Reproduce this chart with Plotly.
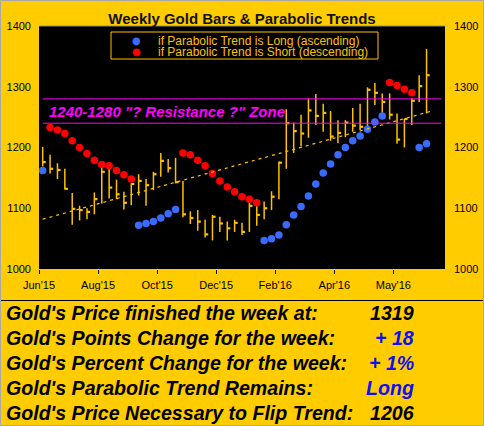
import plotly.graph_objects as go

# ---------------- data ----------------
weeks = list(range(53))
highs = [1201, 1188, 1174, 1165, 1125, 1104, 1100, 1126, 1169, 1172,
         1147, 1127, 1141, 1156, 1148, 1160, 1191, 1181, 1183, 1145,
         1095, 1097, 1081, 1089, 1086, 1078, 1081, 1076, 1115, 1111,
         1111, 1128, 1177, 1263, 1241, 1254, 1281, 1288, 1272, 1260,
         1245, 1245, 1265, 1272, 1299, 1306, 1289, 1289, 1256, 1247,
         1281, 1319, 1362]
lows = [1169, 1157, 1148, 1131, 1073, 1080, 1082, 1090, 1108, 1116,
        1115, 1098, 1105, 1121, 1104, 1130, 1152, 1159, 1141, 1085,
        1074, 1063, 1052, 1047, 1061, 1047, 1061, 1056, 1061, 1071,
        1082, 1097, 1115, 1165, 1191, 1202, 1216, 1237, 1226, 1211,
        1207, 1217, 1226, 1229, 1229, 1270, 1257, 1246, 1206, 1200,
        1237, 1275, 1256]
closes = [1176, 1165, 1163, 1132, 1099, 1097, 1094, 1115, 1160, 1134,
          1123, 1109, 1140, 1145, 1138, 1156, 1178, 1166, 1143, 1090,
          1084, 1078, 1057, 1086, 1075, 1067, 1076, 1061, 1104, 1089,
          1100, 1119, 1175, 1240, 1227, 1223, 1261, 1252, 1257, 1218,
          1224, 1241, 1236, 1234, 1295, 1290, 1275, 1254, 1213, 1247,
          1277, 1301, 1319]
sar_values = [1162, 1233, 1229, 1223, 1211, 1200, 1190, 1179, 1172, 1170,
              1162, 1155, 1148, 1072, 1075, 1078, 1084, 1091, 1098, 1191,
              1188, 1179, 1170, 1157, 1145, 1135, 1127, 1119, 1115, 1109,
              1047, 1050, 1056, 1073, 1089, 1103, 1120, 1140, 1158, 1173,
              1188, 1200, 1211, 1219, 1230, 1242, 1252, 1307, 1302, 1296,
              1290, 1200, 1206]
sar_side = (["L"] + ["S"] * 12 + ["L"] * 6 + ["S"] * 11 + ["L"] * 17
            + ["S"] * 4 + ["L"] * 2)
trend_x = [0, 53]
trend_y = [1082, 1261]
zone_low, zone_high = 1240, 1280
tick_pos = [-0.5, 7.5, 15.5, 23.5, 31.5, 39.5, 47.5]
tick_labels = ["Jun'15", "Aug'15", "Oct'15", "Dec'15", "Feb'16", "Apr'16", "May'16"]
y_ticks = [1000, 1100, 1200, 1300, 1400]
table_labels = ["Gold's Price finished the week at:",
                "Gold's Points Change for the week:",
                "Gold's Percent Change for the week:",
                "Gold's Parabolic Trend Remains:",
                "Gold's Price Necessary to Flip Trend:"]
table_values = ["1319", "+ 18", "+ 1%", "Long", "1206"]
table_colors = ["black", "#1010F0", "#1010F0", "#1010F0", "black"]

# ---------------- styling ----------------
GOLD = "#FFC000"
BG = "#FFCC00"
BLUE = "#3A6BFF"
RED = "#FF0000"
MAGENTA = "#FF00FF"
FONT = "Arial, Liberation Sans, sans-serif"

W, H = 484, 426
ML, MR, MT, MB = 39, 39, 26, 157
PW = W - ML - MR
PH = H - MT - MB


def px_x(p):
    return (p - ML) / PW


def px_y(p):
    return (H - MB - p) / PH


# ---------------- traces ----------------
bar_x, bar_y = [], []
for i, h, l in zip(weeks, highs, lows):
    bar_x += [i, i, None]
    bar_y += [l, h, None]
close_x, close_y = [], []
for i, c in zip(weeks, closes):
    close_x += [i, i + 0.42, None]
    close_y += [c, c, None]

long_y = [v if s == "L" else None for v, s in zip(sar_values, sar_side)]
short_y = [v if s == "S" else None for v, s in zip(sar_values, sar_side)]

fig = go.Figure()
fig.add_trace(go.Scatter(x=trend_x, y=trend_y, mode="lines",
                         line=dict(color=GOLD, width=1.2, dash="3px,4px"),
                         hoverinfo="skip", showlegend=False, yaxis="y2"))
fig.add_trace(go.Scatter(x=bar_x, y=bar_y, mode="lines",
                         line=dict(color=GOLD, width=1.5), showlegend=False))
fig.add_trace(go.Scatter(x=close_x, y=close_y, mode="lines",
                         line=dict(color=GOLD, width=2.2), showlegend=False))
fig.add_trace(go.Scatter(x=weeks, y=long_y, mode="markers",
                         marker=dict(color=BLUE, size=7.5, symbol="circle"),
                         name="if Parabolic Trend is Long (ascending)", showlegend=False))
fig.add_trace(go.Scatter(x=weeks, y=short_y, mode="markers",
                         marker=dict(color=RED, size=7.5, symbol="circle"),
                         name="if Parabolic Trend is Short (descending)", showlegend=False))

shapes = []
for lvl in (zone_low, zone_high):
    shapes.append(dict(type="line", xref="x", yref="y", x0=0, x1=54, y0=lvl, y1=lvl,
                       line=dict(color=MAGENTA, width=1)))
# top border of plot
shapes.append(dict(type="line", xref="paper", yref="paper", x0=0, x1=1, y0=1, y1=1,
                   line=dict(color="#8C8C8C", width=1)))
# legend box
shapes.append(dict(type="rect", xref="paper", yref="paper",
                   x0=px_x(111), x1=px_x(378), y0=px_y(59), y1=px_y(32),
                   line=dict(color=GOLD, width=1), fillcolor="black"))
# separator line
shapes.append(dict(type="line", xref="paper", yref="paper",
                   x0=px_x(0), x1=px_x(W), y0=px_y(300.5), y1=px_y(300.5),
                   line=dict(color="black", width=1)))
# figure border
shapes.append(dict(type="rect", xref="paper", yref="paper",
                   x0=px_x(0.5), x1=px_x(W - 0.5), y0=px_y(H - 0.5), y1=px_y(0.5),
                   line=dict(color="#A8A8A8", width=1)))

annotations = []
annotations.append(dict(xref="x", yref="y", x=0.6, y=(zone_low + zone_high) / 2,
                        xanchor="left", yanchor="middle", showarrow=False,
                        text='<b><i>1240-1280 "? Resistance ?" Zone</i></b>',
                        font=dict(family=FONT, size=15, color=MAGENTA)))
# legend entries
for yy, col, txt in ((40.7, BLUE, "if Parabolic Trend is Long (ascending)"),
                     (51.7, RED, "if Parabolic Trend is Short (descending)")):
    annotations.append(dict(xref="paper", yref="paper", x=px_x(136), y=px_y(yy),
                            xanchor="center", yanchor="middle", showarrow=False,
                            text="●", font=dict(family="DejaVu Sans", size=10, color=col)))
    annotations.append(dict(xref="paper", yref="paper", x=px_x(156), y=px_y(yy),
                            xanchor="left", yanchor="middle", showarrow=False,
                            text=txt, font=dict(family=FONT, size=12, color=GOLD)))
# table
for k, (lab, val, col) in enumerate(zip(table_labels, table_values, table_colors)):
    yy = 313 + 25 * k
    annotations.append(dict(xref="paper", yref="paper", x=px_x(4), y=px_y(yy),
                            xanchor="left", yanchor="middle", showarrow=False,
                            text="<b><i>" + lab + "</i></b>",
                            font=dict(family=FONT, size=19.6, color="black")))
    annotations.append(dict(xref="paper", yref="paper", x=px_x(416), y=px_y(yy),
                            xanchor="right", yanchor="middle", showarrow=False,
                            text="<b><i>" + val + "</i></b>",
                            font=dict(family=FONT, size=19.6, color=col)))

fig.update_layout(
    width=W, height=H,
    margin=dict(l=ML, r=MR, t=MT, b=MB, pad=0, autoexpand=False),
    paper_bgcolor=BG, plot_bgcolor="black",
    title=dict(text="<b>Weekly Gold Bars & Parabolic Trends</b>",
               x=0.5, xanchor="center", y=1 - 18.5 / H, yanchor="middle",
               font=dict(family=FONT, size=15, color="#111111")),
    xaxis=dict(range=[-0.5, 54.5], tickvals=tick_pos, ticktext=tick_labels,
               ticks="outside", ticklen=4, tickcolor="black", tickwidth=1,
               showgrid=False, zeroline=False, showline=False, automargin=False,
               ticklabelstandoff=2,
               tickfont=dict(family=FONT, size=11, color="black")),
    yaxis=dict(range=[1000, 1400], tickvals=y_ticks, showgrid=False, zeroline=False,
               showline=False, ticks="", side="left", ticklabelstandoff=7, automargin=False,
               tickfont=dict(family=FONT, size=11, color="black")),
    yaxis2=dict(range=[1000, 1400], tickvals=y_ticks, showgrid=False, zeroline=False,
                showline=False, ticks="", side="right", overlaying="y", ticklabelstandoff=8,
                automargin=False,
                tickfont=dict(family=FONT, size=11, color="black")),
    shapes=shapes, annotations=annotations,
    showlegend=False,
)

fig.write_html("out.html", config={"displayModeBar": False},
               post_script="document.body.style.margin='0px';document.body.style.padding='0px';")
